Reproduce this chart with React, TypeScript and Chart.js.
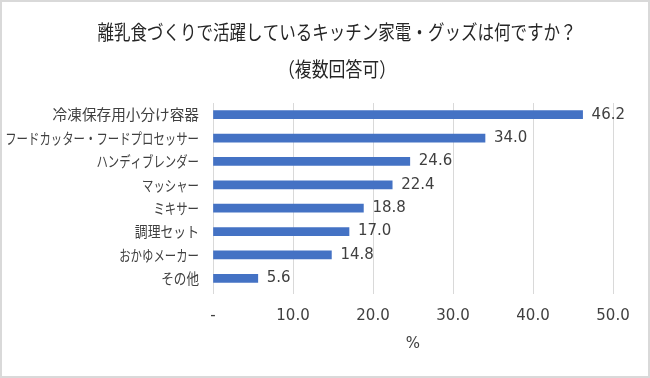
import React, { useEffect, useRef } from "react";
import { Chart, registerables } from "chart.js";

Chart.register(...registerables);

const titleLines = ["離乳食づくりで活躍しているキッチン家電・グッズは何ですか？", "（複数回答可）"];
const categories = [
  "冷凍保存用小分け容器",
  "フードカッター・フードプロセッサー",
  "ハンディブレンダー",
  "マッシャー",
  "ミキサー",
  "調理セット",
  "おかゆメーカー",
  "その他",
];
const values = [46.2, 34.0, 24.6, 22.4, 18.8, 17.0, 14.8, 5.6];
const axisTitle = "%";
const xMin = 0;
const xMax = 50;
const xStep = 10;

const TEXT = "#404040";
const CJK = '"Noto Sans CJK JP", "Noto Sans", sans-serif';
const NUM = '"DejaVu Sans", Verdana, sans-serif';

// approximate proportional kana widths of the original font
const targetWidth = (s: string, size: number) => {
  let w = 0;
  for (const ch of s) {
    if (/[\u4e00-\u9fff]/.test(ch)) w += size;
    else if (/[（）]/.test(ch)) w += size * 0.45;
    else w += size * 0.76;
  }
  return w;
};

const labelPlugin = {
  id: "customLabels",
  afterDraw(chart: any) {
    const ctx = chart.ctx;
    const yScale = chart.scales.y;
    ctx.save();
    // title
    ctx.fillStyle = "#262626";
    ctx.font = `20px ${CJK}`;
    ctx.textAlign = "center";
    ctx.textBaseline = "middle";
    const ys = [32, 69];
    titleLines.forEach((t, i) => {
      const natural = ctx.measureText(t).width;
      ctx.fillText(t, 337, ys[i], Math.min(natural, targetWidth(t, 20)));
    });
    // category labels
    ctx.fillStyle = TEXT;
    ctx.font = `15px ${CJK}`;
    ctx.textAlign = "right";
    categories.forEach((c, i) => {
      const y = yScale.getPixelForTick(i);
      const natural = ctx.measureText(c).width;
      ctx.fillText(c, chart.chartArea.left - 14, y, Math.min(natural, targetWidth(c, 15)));
    });
    // value labels
    ctx.font = `15px ${NUM}`;
    ctx.textAlign = "left";
    const meta = chart.getDatasetMeta(0);
    meta.data.forEach((bar: any, i: number) => {
      ctx.fillText(values[i].toFixed(1), bar.x + 9, bar.y);
    });
    ctx.restore();
  },
};

export default function App() {
  const ref = useRef<HTMLCanvasElement>(null);
  useEffect(() => {
    if (!ref.current) return;
    const chart = new Chart(ref.current, {
      type: "bar",
      data: {
        labels: categories,
        datasets: [
          {
            data: values,
            backgroundColor: "#4472C4",
            barThickness: 8,
          },
        ],
      },
      options: {
        indexAxis: "y",
        animation: false,
        responsive: false,
        layout: { padding: { top: 103, right: 37, bottom: 0, left: 0 } },
        plugins: { legend: { display: false }, tooltip: { enabled: false }, title: { display: false } },
        scales: {
          x: {
            min: xMin,
            max: xMax,
            ticks: {
              stepSize: xStep,
              color: TEXT,
              font: { family: NUM, size: 15 },
              padding: 13,
              callback: (v: any) => (Number(v) === 0 ? "-" : Number(v).toFixed(1)),
            },
            grid: { color: "#d9d9d9", tickLength: 4, tickColor: "#d9d9d9" },
            border: { display: false },
            title: {
              display: true,
              text: axisTitle,
              color: TEXT,
              font: { family: NUM, size: 15 },
              padding: { top: 0, bottom: 25 },
            },
            afterFit: (s: any) => {
              s.height = 88;
            },
          },
          y: {
            ticks: { display: false },
            grid: { display: false },
            border: { display: true, color: "#d9d9d9" },
            afterFit: (s: any) => {
              s.width = 213;
            },
          },
        },
      },
      plugins: [labelPlugin],
    });
    return () => chart.destroy();
  }, []);
  return (
    <div style={{ position: "fixed", left: 0, top: 0, width: 650, height: 378, background: "#fff" }}>
      <canvas ref={ref} width={650} height={378} style={{ display: "block", width: 650, height: 378 }} />
      <div
        style={{
          position: "absolute",
          left: 0,
          top: 0,
          width: 650,
          height: 378,
          boxSizing: "border-box",
          border: "2px solid #d9d9d9",
          pointerEvents: "none",
        }}
      />
    </div>
  );
}
